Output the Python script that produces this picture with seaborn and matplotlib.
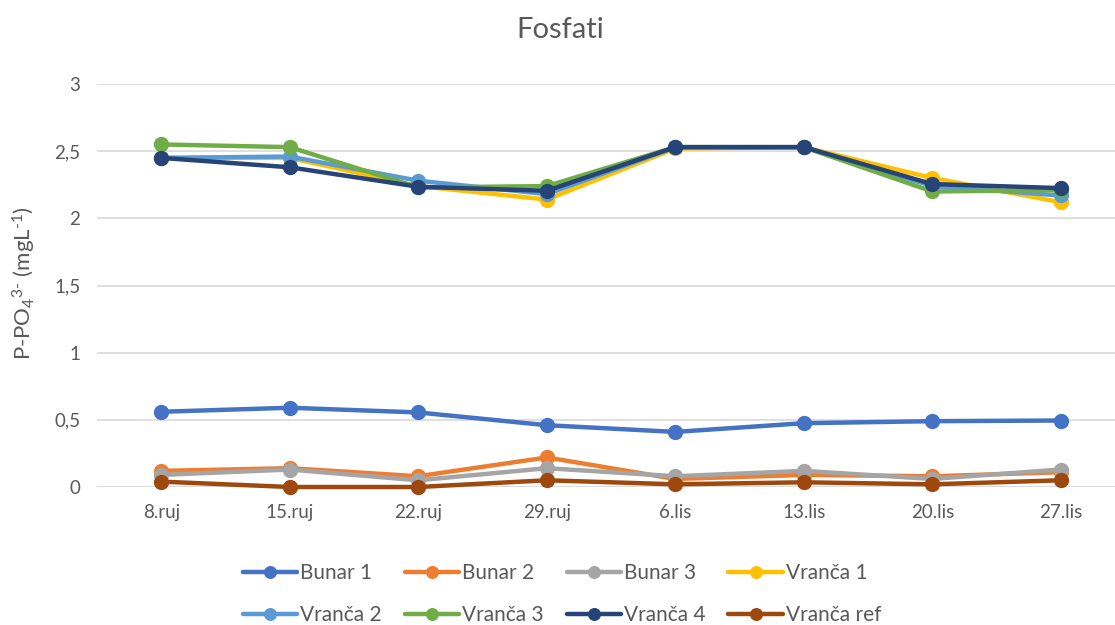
import matplotlib
matplotlib.use("Agg")
import matplotlib.pyplot as plt
import seaborn as sns
import numpy as np
import pandas as pd

# Dates (categories)
dates = ['8.ruj', '15.ruj', '22.ruj', '29.ruj', '6.lis', '13.lis', '20.lis', '27.lis']

# Series values (mg/L)
bunar_1 = [0.56, 0.59, 0.555, 0.46, 0.41, 0.475, 0.49, 0.495]
bunar_2 = [0.12, 0.14, 0.08, 0.22, 0.06, 0.09, 0.08, 0.11]
bunar_3 = [0.09, 0.13, 0.05, 0.14, 0.08, 0.12, 0.06, 0.13]
vranca_1 = [2.45, 2.45, 2.24, 2.14, 2.52, 2.53, 2.30, 2.12]
vranca_2 = [2.45, 2.46, 2.28, 2.18, 2.53, 2.53, 2.24, 2.17]
vranca_3 = [2.55, 2.53, 2.23, 2.24, 2.53, 2.53, 2.20, 2.21]
vranca_4 = [2.45, 2.38, 2.235, 2.205, 2.53, 2.53, 2.255, 2.225]
vranca_ref = [0.04, 0.0, 0.0, 0.05, 0.02, 0.035, 0.02, 0.05]

series_names = ['Bunar 1', 'Bunar 2', 'Bunar 3', 'Vranča 1',
                'Vranča 2', 'Vranča 3', 'Vranča 4', 'Vranča ref']
series_values = [bunar_1, bunar_2, bunar_3, vranca_1,
                 vranca_2, vranca_3, vranca_4, vranca_ref]
colors = ['#4472C4', '#ED7D31', '#A5A5A5', '#FFC000',
          '#5B9BD5', '#70AD47', '#264478', '#9E480E']

sns.set_theme(style='white')
plt.rcParams['font.family'] = ['Lato', 'DejaVu Sans']
plt.rcParams['mathtext.fontset'] = 'custom'
plt.rcParams['mathtext.rm'] = 'Lato'
plt.rcParams['mathtext.it'] = 'Lato'

fig = plt.figure(figsize=(11.15, 6.25), dpi=100)
ax = fig.add_axes([97 / 1115, (625 - 487) / 625, 1018 / 1115, 403 / 625])

x = np.arange(len(dates))
for name, vals, col in zip(series_names, series_values, colors):
    df = pd.DataFrame({'x': x, 'y': vals})
    sns.lineplot(data=df, x='x', y='y', ax=ax, color=col, linewidth=3.2,
                 marker='o', markersize=11, markeredgewidth=0, label=name,
                 clip_on=False)

ax.set_xlim(-0.5, -0.5 + 1018 / 128.5)
ax.set_ylim(0, 3)
ax.set_yticks([0, 0.5, 1, 1.5, 2, 2.5, 3])
ax.set_yticklabels(['0', '0,5', '1', '1,5', '2', '2,5', '3'])
ax.set_xticks(x)
ax.set_xticklabels(dates)
ax.tick_params(axis='both', labelsize=13.5, colors='#595959', length=0, pad=12)
ax.yaxis.grid(True, color='#D9D9D9', linewidth=1.2)
ax.set_axisbelow(True)
for s in ax.spines.values():
    s.set_visible(False)
ax.axhline(0, color='#D9D9D9', linewidth=1.2, zorder=0)

ax.set_xlabel('')
ax.set_ylabel('')
fig.text(24 / 1115, 1 - 283 / 625, r'P-PO$_4$$^{3\text{-}}$ (mgL$^{\text{-}1}$)',
         rotation=90, ha='center', va='center', fontsize=16, color='#595959')

fig.text(560 / 1115, 1 - 30 / 625, 'Fosfati', ha='center', va='center',
         fontsize=21, color='#595959')

handles, labels = ax.get_legend_handles_labels()
ax.legend_.remove()
# matplotlib fills legend columns first; reorder so rows read left to right
order = [0, 4, 1, 5, 2, 6, 3, 7]
fig.legend([handles[i] for i in order], [labels[i] for i in order], ncol=4,
           loc='center', bbox_to_anchor=(562 / 1115, 1 - 594 / 625),
           frameon=False, fontsize=15, handlelength=2.6, handletextpad=0.15,
           columnspacing=1.1, labelspacing=1.05, markerscale=0.85,
           labelcolor='#595959')

fig.savefig('out.png', dpi=100)
